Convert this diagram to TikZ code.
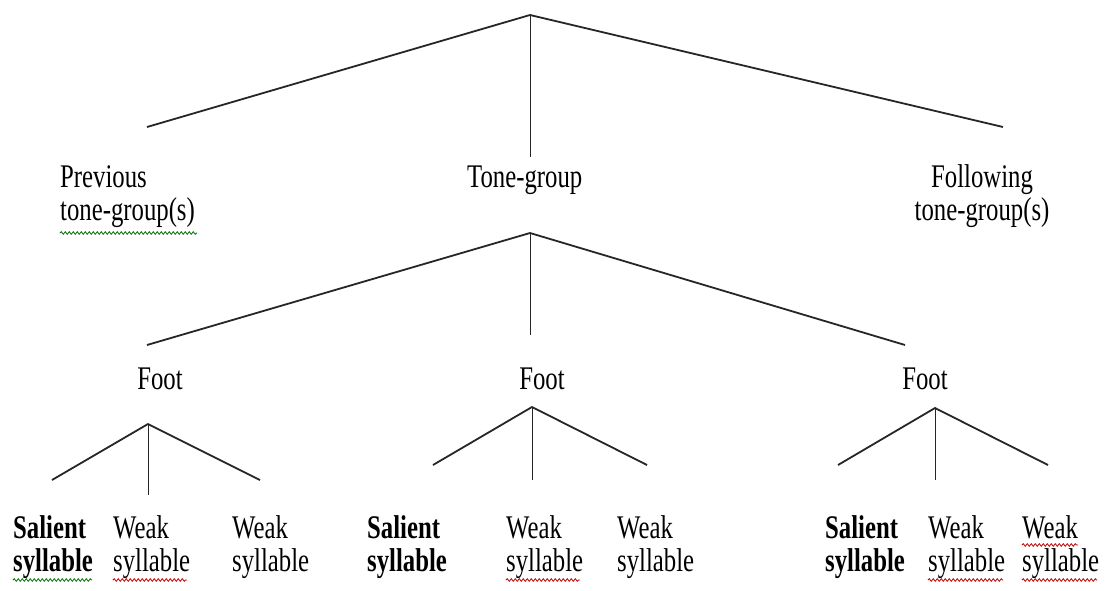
\documentclass[tikz,border=0pt]{standalone}
\usepackage{fontspec}
\setmainfont{Liberation Serif}
\usetikzlibrary{decorations.pathmorphing}

\tikzset{
  lbl/.style={inner sep=0pt,xscale=0.75,font=\fontsize{33}{33}\selectfont,
              align=left,anchor=base west},
  branch/.style={line width=1.8pt,black!85},
  stem/.style={line width=1pt,black!85},
  squiggle/.style={line width=0.8pt,
                   decorate,decoration={snake,segment length=4pt,amplitude=1.3pt}}
}

\begin{document}
\begin{tikzpicture}[x=1pt,y=-1pt]
  \useasboundingbox (0,0) rectangle (1108,590);

  % tree points
  \coordinate (top) at (530,15);
  \coordinate (prevEnd) at (147,127);
  \coordinate (tgEnd) at (530,157);
  \coordinate (follEnd) at (1003,127);
  \coordinate (tgTop) at (530,233);
  \coordinate (footA) at (147,345);
  \coordinate (footB) at (530,335);
  \coordinate (footC) at (905,345);
  \coordinate (fA) at (148,424);
  \coordinate (fB) at (532,407);
  \coordinate (fC) at (935,408);
  \coordinate (fAl) at (52,480);  \coordinate (fAm) at (148,495); \coordinate (fAr) at (260,480);
  \coordinate (fBl) at (433,465); \coordinate (fBm) at (532,480); \coordinate (fBr) at (647,465);
  \coordinate (fCl) at (838,465); \coordinate (fCm) at (935,480); \coordinate (fCr) at (1048,465);

  % labels (two-line nodes sit on their last baseline)
  \node[lbl] (prev) at (60,220) {Previous\\tone-group(s)};
  \node[lbl] (tg) at (467,187) {Tone-group};
  \node[lbl,align=center,anchor=base] (foll) at (982,220) {Following\\tone-group(s)};
  \node[lbl,anchor=base] (footL) at (160,389) {Foot};
  \node[lbl,anchor=base] (footM) at (542,389) {Foot};
  \node[lbl,anchor=base] (footR) at (925,389) {Foot};

  \node[lbl,font=\fontsize{33}{33}\selectfont\bfseries] (salA) at (13,571) {Salient\\syllable};
  \node[lbl] (weakA1) at (113,571) {Weak\\syllable};
  \node[lbl] (weakA2) at (232,571) {Weak\\syllable};
  \node[lbl,font=\fontsize{33}{33}\selectfont\bfseries] (salB) at (367,571) {Salient\\syllable};
  \node[lbl] (weakB1) at (506,571) {Weak\\syllable};
  \node[lbl] (weakB2) at (617,571) {Weak\\syllable};
  \node[lbl,font=\fontsize{33}{33}\selectfont\bfseries] (salC) at (825,571) {Salient\\syllable};
  \node[lbl] (weakC1) at (928,571) {Weak\\syllable};
  \node[lbl] (weakC2) at (1022,571) {Weak\\syllable};

  % branches
  \draw[branch] (prevEnd) -- (top) -- (follEnd);
  \draw[stem] (top) -- (tgEnd);
  \draw[branch] (footA) -- (tgTop) -- (footC);
  \draw[stem] (tgTop) -- (footB);
  \foreach \f in {A,B,C}{
    \draw[branch] (f\f l) -- (f\f) -- (f\f r);
    \draw[stem] (f\f) -- (f\f m);
  }

  % spell-check marks
  \draw[squiggle,green!45!black] (60,233) -- (197,233);
  \draw[squiggle,green!45!black] (13,580) -- (92,580);
  \draw[squiggle,red!75!black] (113,580) -- (187,580);
  \draw[squiggle,red!75!black] (506,580) -- (580,580);
  \draw[squiggle,red!75!black] (928,580) -- (1003,580);
  \draw[squiggle,red!75!black] (1022,545) -- (1078,545);
  \draw[squiggle,red!75!black] (1022,580) -- (1097,580);
\end{tikzpicture}
\end{document}
